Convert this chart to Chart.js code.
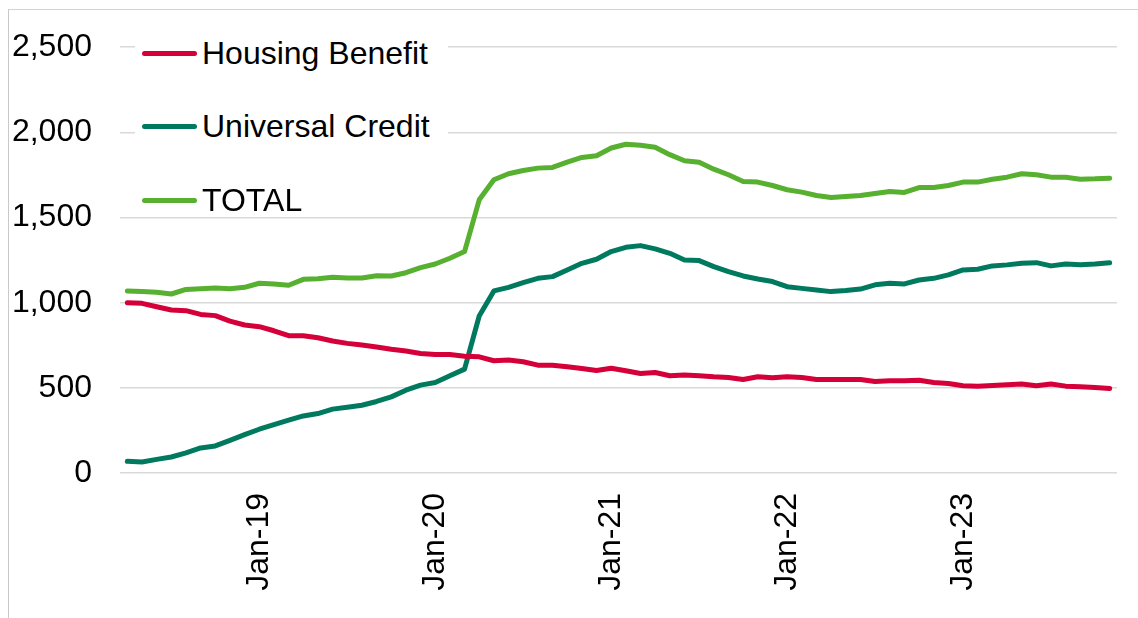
<!DOCTYPE html>
<html>
<head>
<meta charset="utf-8">
<script src="https://cdn.jsdelivr.net/npm/chart.js@4/dist/chart.umd.min.js"></script>
<style>
  body { margin: 0; background: #fff; }
  #wrap { position: relative; width: 1138px; height: 618px; overflow: hidden; }
  #frame { position: absolute; left: 8px; top: 9px; width: 1200px; height: 700px;
           border-left: 1px solid #c9c9c9; border-top: 1px solid #d4d4d4; pointer-events: none; }
  #legend { position: absolute; left: 135px; top: 22px; width: 313px; height: 192px; background: #fff;
            font-family: 'Liberation Sans', Arial, sans-serif; font-size: 32px; color: #000; }
  .item { position: absolute; left: 7px; height: 40px; display: flex; align-items: center; }
  .swatch { width: 55px; height: 5px; border-radius: 3px; margin-right: 5px; }
</style>
</head>
<body>
<div id="wrap">
  <canvas id="chart" width="1138" height="618"></canvas>
  <div id="legend"></div>
  <div id="frame"></div>
</div>
<script>
// months Apr-18 .. Nov-23
const months = [
  'Apr-18','May-18','Jun-18','Jul-18','Aug-18','Sep-18','Oct-18','Nov-18','Dec-18',
  'Jan-19','Feb-19','Mar-19','Apr-19','May-19','Jun-19','Jul-19','Aug-19','Sep-19','Oct-19','Nov-19','Dec-19',
  'Jan-20','Feb-20','Mar-20','Apr-20','May-20','Jun-20','Jul-20','Aug-20','Sep-20','Oct-20','Nov-20','Dec-20',
  'Jan-21','Feb-21','Mar-21','Apr-21','May-21','Jun-21','Jul-21','Aug-21','Sep-21','Oct-21','Nov-21','Dec-21',
  'Jan-22','Feb-22','Mar-22','Apr-22','May-22','Jun-22','Jul-22','Aug-22','Sep-22','Oct-22','Nov-22','Dec-22',
  'Jan-23','Feb-23','Mar-23','Apr-23','May-23','Jun-23','Jul-23','Aug-23','Sep-23','Oct-23','Nov-23'
];

const housingBenefit = [
  1000, 996, 976, 957, 953, 931, 924, 892, 869,
  859, 835, 806, 806, 794, 775, 761, 751, 740, 727, 716, 702,
  696, 696, 686, 682, 659, 663, 653, 633, 633, 624, 614, 602,
  615, 600, 584, 590, 571, 575, 571, 565, 561, 549, 565, 559,
  565, 561, 549, 549, 549, 549, 537, 541, 541, 545, 531, 525,
  512, 510, 514, 518, 522, 512, 522, 510, 506, 502, 496
];

const universalCredit = [
  69, 65, 80, 94, 118, 147, 159, 192, 225,
  257, 284, 310, 335, 349, 375, 386, 398, 420, 447, 486, 516,
  531, 571, 610, 922, 1069, 1090, 1118, 1143, 1153, 1192, 1231, 1255,
  1300, 1325, 1335, 1316, 1290, 1251, 1247, 1212, 1182, 1157, 1139, 1124,
  1094, 1084, 1075, 1065, 1071, 1080, 1105, 1114, 1110, 1133, 1143, 1163,
  1192, 1196, 1216, 1222, 1231, 1235, 1216, 1227, 1222, 1227, 1235
];

const total = [
  1069, 1065, 1061, 1051, 1078, 1082, 1086, 1082, 1090,
  1114, 1110, 1102, 1137, 1141, 1149, 1145, 1145, 1158, 1157, 1176, 1206,
  1227, 1261, 1300, 1604, 1722, 1757, 1776, 1790, 1794, 1825, 1853, 1863,
  1908, 1930, 1924, 1912, 1869, 1833, 1824, 1784, 1751, 1712, 1708, 1688,
  1663, 1649, 1629, 1618, 1624, 1629, 1641, 1653, 1647, 1676, 1676, 1688,
  1708, 1708, 1725, 1737, 1757, 1751, 1737, 1737, 1725, 1727, 1731
];

const yTicks = [0, 500, 1000, 1500, 2000, 2500];

const series = [
  { label: 'Housing Benefit', data: housingBenefit, color: '#d5003a' },
  { label: 'Universal Credit', data: universalCredit, color: '#007a5e' },
  { label: 'TOTAL', data: total, color: '#57b030' }
];

const font = { family: "'Liberation Sans', Arial, sans-serif", size: 32 };

new Chart(document.getElementById('chart'), {
  type: 'line',
  data: {
    labels: months,
    datasets: series.map(s => ({
      label: s.label,
      data: s.data,
      borderColor: s.color,
      backgroundColor: s.color,
      borderWidth: 5,
      borderCapStyle: 'round',
      borderJoinStyle: 'round',
      pointRadius: 0,
      tension: 0
    }))
  },
  options: {
    responsive: false,
    animation: false,
    layout: { padding: { left: 12, right: 21, top: 47, bottom: 0 } },
    plugins: { legend: { display: false }, tooltip: { enabled: false } },
    scales: {
      x: {
        offset: true,
        grid: { display: false },
        border: { display: false },
        ticks: {
          autoSkip: false,
          maxRotation: 90,
          minRotation: 90,
          padding: 12,
          color: '#000',
          font: font,
          callback: (v, i) => months[i].startsWith('Jan') ? months[i] : ''
        },
        afterFit: scale => {
          scale.height = 145;
          scale.paddingLeft = 0;
          scale.paddingRight = 0;
        }
      },
      y: {
        min: 0,
        max: yTicks[yTicks.length - 1],
        afterBuildTicks: scale => { scale.ticks = yTicks.map(v => ({ value: v })); },
        grid: { color: '#d9d9d9', lineWidth: 1.5, drawTicks: false },
        border: { display: false },
        ticks: {
          padding: 28,
          color: '#000',
          font: font,
          callback: v => v.toLocaleString('en-GB')
        },
        afterFit: scale => { scale.width = 108; }
      }
    }
  }
});

// legend drawn as html over the plot, like the excel one
const legend = document.getElementById('legend');
series.forEach((s, i) => {
  const row = document.createElement('div');
  row.className = 'item';
  row.style.top = (11 + i * 73.5) + 'px';
  const sw = document.createElement('div');
  sw.className = 'swatch';
  sw.style.background = s.color;
  const txt = document.createElement('span');
  txt.textContent = s.label;
  row.appendChild(sw);
  row.appendChild(txt);
  legend.appendChild(row);
});
</script>
</body>
</html>
